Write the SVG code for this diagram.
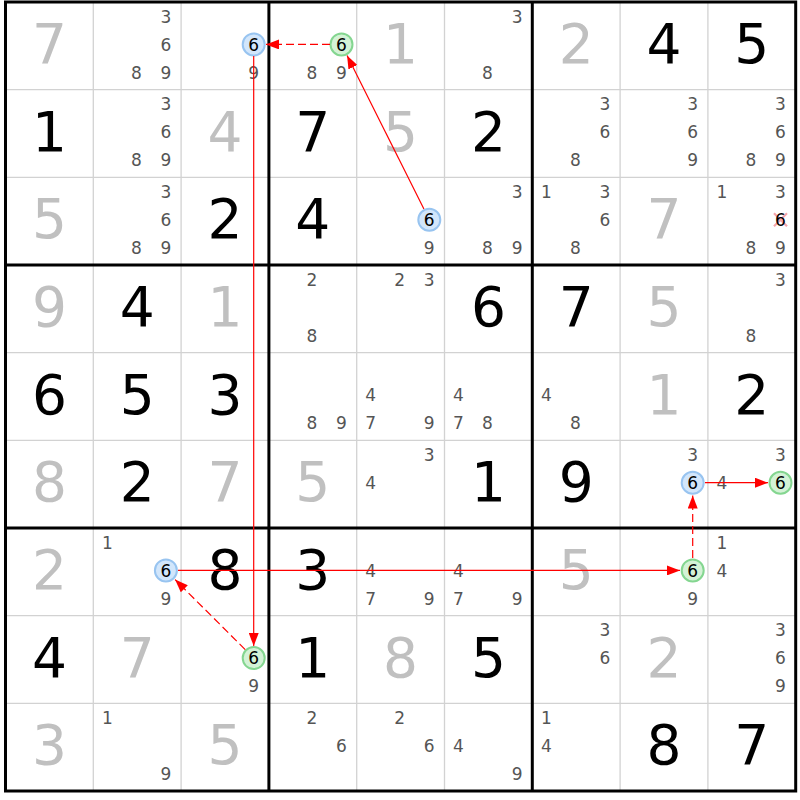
<svg xmlns="http://www.w3.org/2000/svg" width="800" height="800" viewBox="0 0 800 800">
<style>
text{font-family:"DejaVu Sans","Verdana",sans-serif;text-anchor:middle}
.g{font-size:55px;fill:#000}
.s{font-size:55px;fill:#c0c0c0}
.c{font-size:17px;fill:#555}
.h{font-size:17px;fill:#000}
.thin{stroke:#d2d2d2;stroke-width:1.3}
.thick{stroke:#000;stroke-width:3}
.bl{fill:#d2e6fb;stroke:#98c4f0;stroke-width:2}
.gr{fill:#d4f2d6;stroke:#84d690;stroke-width:2}
.ln{stroke:#f00;stroke-width:1.2;fill:none;marker-end:url(#ah)}
.d{stroke-dasharray:8,4}
</style>
<defs>
<marker id="ah" markerUnits="userSpaceOnUse" markerWidth="13" markerHeight="10" refX="13" refY="5" orient="auto">
<path d="M0,0 L13,5 L0,10 z" fill="#f00"/>
</marker>
</defs>
<rect x="0" y="0" width="800" height="800" fill="#fff"/>
<g id="grid">
<g class="thin">
<line x1="93.3" y1="2" x2="93.3" y2="791"/><line x1="181.1" y1="2" x2="181.1" y2="791"/>
<line x1="356.7" y1="2" x2="356.7" y2="791"/><line x1="444.5" y1="2" x2="444.5" y2="791"/>
<line x1="620.1" y1="2" x2="620.1" y2="791"/><line x1="707.9" y1="2" x2="707.9" y2="791"/>
<line x1="5.5" y1="89.67" x2="795.7" y2="89.67"/><line x1="5.5" y1="177.33" x2="795.7" y2="177.33"/>
<line x1="5.5" y1="352.67" x2="795.7" y2="352.67"/><line x1="5.5" y1="440.33" x2="795.7" y2="440.33"/>
<line x1="5.5" y1="615.67" x2="795.7" y2="615.67"/><line x1="5.5" y1="703.33" x2="795.7" y2="703.33"/>
</g>
<g class="thick">
<line x1="268.9" y1="2" x2="268.9" y2="791"/><line x1="532.3" y1="2" x2="532.3" y2="791"/>
<line x1="5.5" y1="265" x2="795.7" y2="265"/><line x1="5.5" y1="528" x2="795.7" y2="528"/>
<rect x="5.5" y="2" width="790.2" height="789" fill="none"/>
</g>
</g>
<!-- row 0 -->
<g id="r0c0" transform="translate(5.5,2)"><text class="s" x="43.9" y="61">7</text></g>
<g id="r0c1" transform="translate(93.3,2)"><text class="c" x="72.6" y="20.7">3</text><text class="c" x="72.6" y="48.6">6</text><text class="c" x="43" y="76.7">8</text><text class="c" x="72.6" y="76.7">9</text></g>
<g id="r0c2" transform="translate(181.1,2)"><circle class="bl" cx="72.6" cy="42.4" r="11"/><text class="h" x="72.6" y="48.6">6</text><text class="c" x="72.6" y="76.7">9</text></g>
<g id="r0c3" transform="translate(268.9,2)"><circle class="gr" cx="72.6" cy="42.4" r="11"/><text class="h" x="72.6" y="48.6">6</text><text class="c" x="43" y="76.7">8</text><text class="c" x="72.6" y="76.7">9</text></g>
<g id="r0c4" transform="translate(356.7,2)"><text class="s" x="43.9" y="61">1</text></g>
<g id="r0c5" transform="translate(444.5,2)"><text class="c" x="72.6" y="20.7">3</text><text class="c" x="43" y="76.7">8</text></g>
<g id="r0c6" transform="translate(532.3,2)"><text class="s" x="43.9" y="61">2</text></g>
<g id="r0c7" transform="translate(620.1,2)"><text class="g" x="43.9" y="61">4</text></g>
<g id="r0c8" transform="translate(707.9,2)"><text class="g" x="43.9" y="61">5</text></g>
<!-- row 1 -->
<g id="r1c0" transform="translate(5.5,89.67)"><text class="g" x="43.9" y="61">1</text></g>
<g id="r1c1" transform="translate(93.3,89.67)"><text class="c" x="72.6" y="20.7">3</text><text class="c" x="72.6" y="48.6">6</text><text class="c" x="43" y="76.7">8</text><text class="c" x="72.6" y="76.7">9</text></g>
<g id="r1c2" transform="translate(181.1,89.67)"><text class="s" x="43.9" y="61">4</text></g>
<g id="r1c3" transform="translate(268.9,89.67)"><text class="g" x="43.9" y="61">7</text></g>
<g id="r1c4" transform="translate(356.7,89.67)"><text class="s" x="43.9" y="61">5</text></g>
<g id="r1c5" transform="translate(444.5,89.67)"><text class="g" x="43.9" y="61">2</text></g>
<g id="r1c6" transform="translate(532.3,89.67)"><text class="c" x="72.6" y="20.7">3</text><text class="c" x="72.6" y="48.6">6</text><text class="c" x="43" y="76.7">8</text></g>
<g id="r1c7" transform="translate(620.1,89.67)"><text class="c" x="72.6" y="20.7">3</text><text class="c" x="72.6" y="48.6">6</text><text class="c" x="72.6" y="76.7">9</text></g>
<g id="r1c8" transform="translate(707.9,89.67)"><text class="c" x="72.6" y="20.7">3</text><text class="c" x="72.6" y="48.6">6</text><text class="c" x="43" y="76.7">8</text><text class="c" x="72.6" y="76.7">9</text></g>
<!-- row 2 -->
<g id="r2c0" transform="translate(5.5,177.33)"><text class="s" x="43.9" y="61">5</text></g>
<g id="r2c1" transform="translate(93.3,177.33)"><text class="c" x="72.6" y="20.7">3</text><text class="c" x="72.6" y="48.6">6</text><text class="c" x="43" y="76.7">8</text><text class="c" x="72.6" y="76.7">9</text></g>
<g id="r2c2" transform="translate(181.1,177.33)"><text class="g" x="43.9" y="61">2</text></g>
<g id="r2c3" transform="translate(268.9,177.33)"><text class="g" x="43.9" y="61">4</text></g>
<g id="r2c4" transform="translate(356.7,177.33)"><circle class="bl" cx="72.6" cy="42.4" r="11"/><text class="h" x="72.6" y="48.6">6</text><text class="c" x="72.6" y="76.7">9</text></g>
<g id="r2c5" transform="translate(444.5,177.33)"><text class="c" x="72.6" y="20.7">3</text><text class="c" x="43" y="76.7">8</text><text class="c" x="72.6" y="76.7">9</text></g>
<g id="r2c6" transform="translate(532.3,177.33)"><text class="c" x="14" y="20.7">1</text><text class="c" x="72.6" y="20.7">3</text><text class="c" x="72.6" y="48.6">6</text><text class="c" x="43" y="76.7">8</text></g>
<g id="r2c7" transform="translate(620.1,177.33)"><text class="s" x="43.9" y="61">7</text></g>
<g id="r2c8" transform="translate(707.9,177.33)"><text class="c" x="14" y="20.7">1</text><text class="c" x="72.6" y="20.7">3</text><path d="M66.1,35.9 L79.1,48.9 M79.1,35.9 L66.1,48.9" stroke="#f4a4aa" stroke-width="2.2" fill="none"/><text class="h" x="72.6" y="48.6">6</text><text class="c" x="43" y="76.7">8</text><text class="c" x="72.6" y="76.7">9</text></g>
<!-- row 3 -->
<g id="r3c0" transform="translate(5.5,265)"><text class="s" x="43.9" y="61">9</text></g>
<g id="r3c1" transform="translate(93.3,265)"><text class="g" x="43.9" y="61">4</text></g>
<g id="r3c2" transform="translate(181.1,265)"><text class="s" x="43.9" y="61">1</text></g>
<g id="r3c3" transform="translate(268.9,265)"><text class="c" x="43" y="20.7">2</text><text class="c" x="43" y="76.7">8</text></g>
<g id="r3c4" transform="translate(356.7,265)"><text class="c" x="43" y="20.7">2</text><text class="c" x="72.6" y="20.7">3</text></g>
<g id="r3c5" transform="translate(444.5,265)"><text class="g" x="43.9" y="61">6</text></g>
<g id="r3c6" transform="translate(532.3,265)"><text class="g" x="43.9" y="61">7</text></g>
<g id="r3c7" transform="translate(620.1,265)"><text class="s" x="43.9" y="61">5</text></g>
<g id="r3c8" transform="translate(707.9,265)"><text class="c" x="72.6" y="20.7">3</text><text class="c" x="43" y="76.7">8</text></g>
<!-- row 4 -->
<g id="r4c0" transform="translate(5.5,352.67)"><text class="g" x="43.9" y="61">6</text></g>
<g id="r4c1" transform="translate(93.3,352.67)"><text class="g" x="43.9" y="61">5</text></g>
<g id="r4c2" transform="translate(181.1,352.67)"><text class="g" x="43.9" y="61">3</text></g>
<g id="r4c3" transform="translate(268.9,352.67)"><text class="c" x="43" y="76.7">8</text><text class="c" x="72.6" y="76.7">9</text></g>
<g id="r4c4" transform="translate(356.7,352.67)"><text class="c" x="14" y="48.6">4</text><text class="c" x="14" y="76.7">7</text><text class="c" x="72.6" y="76.7">9</text></g>
<g id="r4c5" transform="translate(444.5,352.67)"><text class="c" x="14" y="48.6">4</text><text class="c" x="14" y="76.7">7</text><text class="c" x="43" y="76.7">8</text></g>
<g id="r4c6" transform="translate(532.3,352.67)"><text class="c" x="14" y="48.6">4</text><text class="c" x="43" y="76.7">8</text></g>
<g id="r4c7" transform="translate(620.1,352.67)"><text class="s" x="43.9" y="61">1</text></g>
<g id="r4c8" transform="translate(707.9,352.67)"><text class="g" x="43.9" y="61">2</text></g>
<!-- row 5 -->
<g id="r5c0" transform="translate(5.5,440.33)"><text class="s" x="43.9" y="61">8</text></g>
<g id="r5c1" transform="translate(93.3,440.33)"><text class="g" x="43.9" y="61">2</text></g>
<g id="r5c2" transform="translate(181.1,440.33)"><text class="s" x="43.9" y="61">7</text></g>
<g id="r5c3" transform="translate(268.9,440.33)"><text class="s" x="43.9" y="61">5</text></g>
<g id="r5c4" transform="translate(356.7,440.33)"><text class="c" x="72.6" y="20.7">3</text><text class="c" x="14" y="48.6">4</text></g>
<g id="r5c5" transform="translate(444.5,440.33)"><text class="g" x="43.9" y="61">1</text></g>
<g id="r5c6" transform="translate(532.3,440.33)"><text class="g" x="43.9" y="61">9</text></g>
<g id="r5c7" transform="translate(620.1,440.33)"><text class="c" x="72.6" y="20.7">3</text><circle class="bl" cx="72.6" cy="42.4" r="11"/><text class="h" x="72.6" y="48.6">6</text></g>
<g id="r5c8" transform="translate(707.9,440.33)"><text class="c" x="72.6" y="20.7">3</text><text class="c" x="14" y="48.6">4</text><circle class="gr" cx="72.6" cy="42.4" r="11"/><text class="h" x="72.6" y="48.6">6</text></g>
<!-- row 6 -->
<g id="r6c0" transform="translate(5.5,528)"><text class="s" x="43.9" y="61">2</text></g>
<g id="r6c1" transform="translate(93.3,528)"><text class="c" x="14" y="20.7">1</text><circle class="bl" cx="72.6" cy="42.4" r="11"/><text class="h" x="72.6" y="48.6">6</text><text class="c" x="72.6" y="76.7">9</text></g>
<g id="r6c2" transform="translate(181.1,528)"><text class="g" x="43.9" y="61">8</text></g>
<g id="r6c3" transform="translate(268.9,528)"><text class="g" x="43.9" y="61">3</text></g>
<g id="r6c4" transform="translate(356.7,528)"><text class="c" x="14" y="48.6">4</text><text class="c" x="14" y="76.7">7</text><text class="c" x="72.6" y="76.7">9</text></g>
<g id="r6c5" transform="translate(444.5,528)"><text class="c" x="14" y="48.6">4</text><text class="c" x="14" y="76.7">7</text><text class="c" x="72.6" y="76.7">9</text></g>
<g id="r6c6" transform="translate(532.3,528)"><text class="s" x="43.9" y="61">5</text></g>
<g id="r6c7" transform="translate(620.1,528)"><circle class="gr" cx="72.6" cy="42.4" r="11"/><text class="h" x="72.6" y="48.6">6</text><text class="c" x="72.6" y="76.7">9</text></g>
<g id="r6c8" transform="translate(707.9,528)"><text class="c" x="14" y="20.7">1</text><text class="c" x="14" y="48.6">4</text></g>
<!-- row 7 -->
<g id="r7c0" transform="translate(5.5,615.67)"><text class="g" x="43.9" y="61">4</text></g>
<g id="r7c1" transform="translate(93.3,615.67)"><text class="s" x="43.9" y="61">7</text></g>
<g id="r7c2" transform="translate(181.1,615.67)"><circle class="gr" cx="72.6" cy="42.4" r="11"/><text class="h" x="72.6" y="48.6">6</text><text class="c" x="72.6" y="76.7">9</text></g>
<g id="r7c3" transform="translate(268.9,615.67)"><text class="g" x="43.9" y="61">1</text></g>
<g id="r7c4" transform="translate(356.7,615.67)"><text class="s" x="43.9" y="61">8</text></g>
<g id="r7c5" transform="translate(444.5,615.67)"><text class="g" x="43.9" y="61">5</text></g>
<g id="r7c6" transform="translate(532.3,615.67)"><text class="c" x="72.6" y="20.7">3</text><text class="c" x="72.6" y="48.6">6</text></g>
<g id="r7c7" transform="translate(620.1,615.67)"><text class="s" x="43.9" y="61">2</text></g>
<g id="r7c8" transform="translate(707.9,615.67)"><text class="c" x="72.6" y="20.7">3</text><text class="c" x="72.6" y="48.6">6</text><text class="c" x="72.6" y="76.7">9</text></g>
<!-- row 8 -->
<g id="r8c0" transform="translate(5.5,703.33)"><text class="s" x="43.9" y="61">3</text></g>
<g id="r8c1" transform="translate(93.3,703.33)"><text class="c" x="14" y="20.7">1</text><text class="c" x="72.6" y="76.7">9</text></g>
<g id="r8c2" transform="translate(181.1,703.33)"><text class="s" x="43.9" y="61">5</text></g>
<g id="r8c3" transform="translate(268.9,703.33)"><text class="c" x="43" y="20.7">2</text><text class="c" x="72.6" y="48.6">6</text></g>
<g id="r8c4" transform="translate(356.7,703.33)"><text class="c" x="43" y="20.7">2</text><text class="c" x="72.6" y="48.6">6</text></g>
<g id="r8c5" transform="translate(444.5,703.33)"><text class="c" x="14" y="48.6">4</text><text class="c" x="72.6" y="76.7">9</text></g>
<g id="r8c6" transform="translate(532.3,703.33)"><text class="c" x="14" y="20.7">1</text><text class="c" x="14" y="48.6">4</text></g>
<g id="r8c7" transform="translate(620.1,703.33)"><text class="g" x="43.9" y="61">8</text></g>
<g id="r8c8" transform="translate(707.9,703.33)"><text class="g" x="43.9" y="61">7</text></g>
<g id="connectors">
<line class="ln d" x1="330" y1="44.4" x2="266" y2="44.4"/>
<line class="ln" x1="423.9" y1="209" x2="347.1" y2="55.6"/>
<line class="ln" x1="253.7" y1="56" x2="253.7" y2="646"/>
<line class="ln d" x1="245.2" y1="649.6" x2="175.1" y2="579.6"/>
<line class="ln" x1="178" y1="570.4" x2="680" y2="570.4"/>
<line class="ln d" x1="692.7" y1="558" x2="692.7" y2="495.5"/>
<line class="ln" x1="705" y1="482.7" x2="768" y2="482.7"/>
</g>
</svg>
